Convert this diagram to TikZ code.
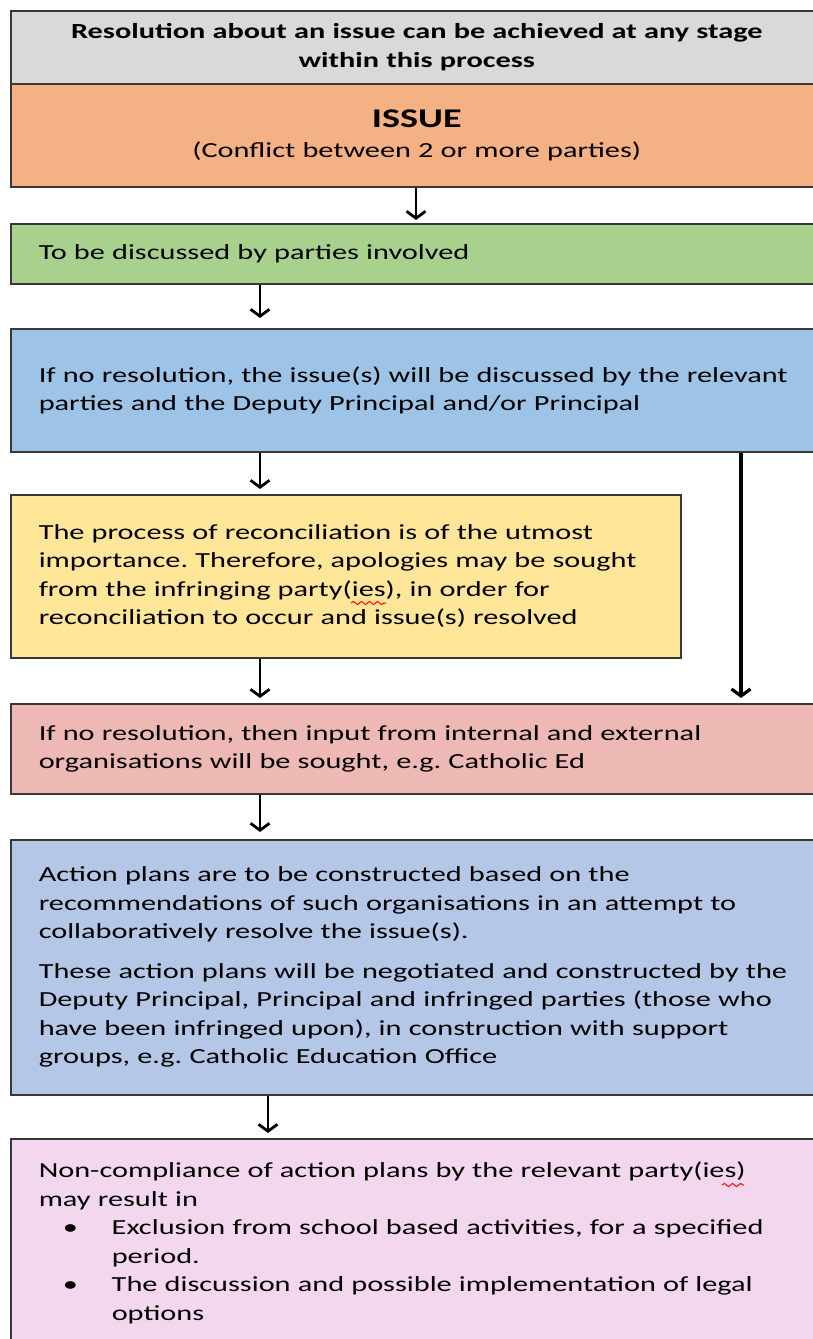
\documentclass[tikz,border=0pt]{standalone}
\usepackage{fontspec}
\setmainfont{Carlito}[FakeStretch=1.41]
\usetikzlibrary{arrows.meta,decorations.pathmorphing}
\definecolor{cgray}{HTML}{D9D9D9}
\definecolor{corange}{HTML}{F4B183}
\definecolor{cgreen}{HTML}{A9D18E}
\definecolor{cblue}{HTML}{9DC3E6}
\definecolor{cyellow}{HTML}{FFE699}
\definecolor{cred}{HTML}{EEB8B4}
\definecolor{clav}{HTML}{B4C7E7}
\definecolor{cpink}{HTML}{F3D7EE}
\definecolor{boxline}{HTML}{383838}
\newcommand\bodyfont{\fontsize{21.5}{28.5}\selectfont}
\newcommand\itembullet{\hspace*{24pt}\makebox[49pt][l]{\textbullet}}
\newcommand\itemcont{\hspace*{73pt}}
\frenchspacing
\begin{document}
\begin{tikzpicture}[x=1pt,y=-1pt,
  box/.style={draw=boxline, line width=1.5pt, rectangle, anchor=north west,
    inner xsep=28pt, inner ysep=0pt, align=left, font=\bodyfont, text width=900pt},
  cbox/.style={box, inner xsep=24pt, align=center, text width=764pt},
  flow/.style={-{Straight Barb[length=7pt,width=19pt]}, line width=2.8pt, shorten >=5pt},
  spell/.style={draw=red, line width=1pt, decorate,
    decoration={snake, amplitude=1.6pt, segment length=8pt}}]
\useasboundingbox (0,0) rectangle (813,1339);
\clip (0,0) rectangle (813,1339);

\node[cbox, fill=cgray, minimum height=73pt] (head) at (10,10)
  {\bfseries Resolution about an issue can be achieved at any stage\\\bfseries within this process};
\node[cbox, fill=corange, minimum height=103pt] (issue) at (10,83)
  {{\fontsize{27}{31}\selectfont\bfseries ISSUE}\\[2pt](Conflict between 2 or more parties)};
\node[box, fill=cgreen, minimum height=60pt] (discuss) at (10,223)
  {To be discussed by parties involved};
\node[box, fill=cblue, minimum height=123pt] (deputy) at (10,328)
  {If no resolution, the issue(s) will be discussed by the relevant\\parties and the Deputy Principal and/or Principal};
\node[box, fill=cyellow, minimum height=163pt, minimum width=670pt, text width=614pt] (recon) at (10,494)
  {The process of reconciliation is of the utmost\\importance. Therefore, apologies may be sought\\from the infringing party(ies), in order for\\reconciliation to occur and issue(s) resolved};
\node[box, fill=cred, minimum height=90pt] (orgs) at (10,703)
  {If no resolution, then input from internal and external\\organisations will be sought, e.g. Catholic Ed};
\node[box, fill=clav, minimum height=255pt] (plans) at (10,839)
  {Action plans are to be constructed based on the\\recommendations of such organisations in an attempt to\\collaboratively resolve the issue(s).\\[11pt]These action plans will be negotiated and constructed by the\\Deputy Principal, Principal and infringed parties (those who\\have been infringed upon), in construction with support\\groups, e.g. Catholic Education Office};
\node[box, fill=cpink, minimum height=208pt] (noncomp) at (10,1138)
  {Non-compliance of action plans by the relevant party(ies)\\may result in\\\itembullet Exclusion from school based activities, for a specified\\\itemcont period.\\\itembullet The discussion and possible implementation of legal\\\itemcont options};

\draw[flow, shorten >=3pt] ([xshift=406pt]issue.south west) -- ([xshift=406pt]discuss.north west);
\draw[flow, shorten >=10pt] ([xshift=250pt]discuss.south west) -- ([xshift=250pt]deputy.north west);
\draw[flow] ([xshift=250pt]deputy.south west) -- ([xshift=250pt]recon.north west);
\draw[flow, line width=3.2pt] ([xshift=731pt]deputy.south west) -- ([xshift=731pt]orgs.north west);
\draw[flow] ([xshift=250pt]recon.south west) -- ([xshift=250pt]orgs.north west);
\draw[flow, shorten >=7pt] ([xshift=250pt]orgs.south west) -- ([xshift=250pt]plans.north west);
\draw[flow] ([xshift=258pt]plans.south west) -- ([xshift=258pt]noncomp.north west);

\draw[spell] (351,603) -- (386,603);
\draw[spell] (722,1185) -- (744,1185);
\end{tikzpicture}
\end{document}
